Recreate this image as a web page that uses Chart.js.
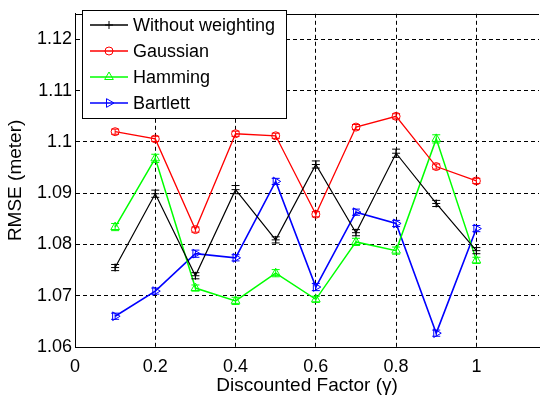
<!DOCTYPE html>
<html>
<head>
<meta charset="utf-8">
<script src="https://cdn.jsdelivr.net/npm/chart.js@4.4.0/dist/chart.umd.min.js"></script>
<style>
  html, body { margin: 0; padding: 0; background: #fff; }
</style>
</head>
<body>
<canvas id="chart" width="545" height="400"></canvas>
<script>
const gammas = [0.1, 0.2, 0.3, 0.4, 0.5, 0.6, 0.7, 0.8, 0.9, 1.0];

const withoutWeighting = [1.0755, 1.0899, 1.0739, 1.0907, 1.0809, 1.0956, 1.0823, 1.0978, 1.0880, 1.0788];
const gaussian = [1.1020, 1.1006, 1.0829, 1.1016, 1.1012, 1.0859, 1.1029, 1.1050, 1.0952, 1.0924];
const hamming = [1.0834, 1.0968, 1.0715, 1.0690, 1.0744, 1.0693, 1.0805, 1.0788, 1.1006, 1.0769];
const bartlett = [1.0660, 1.0709, 1.0782, 1.0774, 1.0923, 1.0717, 1.0863, 1.0841, 1.0627, 1.0831];

// half heights of the error bars
const errWithout = [0.0006, 0.0007, 0.0006, 0.0008, 0.0006, 0.0007, 0.0006, 0.0008, 0.0006, 0.0006];
const errGaussian = [0.0005, 0.0005, 0.0005, 0.0005, 0.0005, 0.0005, 0.0005, 0.0005, 0.0005, 0.0005];
const errHamming = [0.0007, 0.0008, 0.0006, 0.0007, 0.0007, 0.0006, 0.0007, 0.0007, 0.0008, 0.0006];
const errBartlett = [0.0006, 0.0006, 0.0007, 0.0006, 0.0006, 0.0007, 0.0006, 0.0006, 0.0006, 0.0006];

const xTicks = [0, 0.2, 0.4, 0.6, 0.8, 1];
const yTicks = [1.06, 1.07, 1.08, 1.09, 1.10, 1.11, 1.12];

const FONT = "'Liberation Sans', Arial, sans-serif";

function series(label, values, errors, color, style, radius, rotation, width) {
  return {
    label: label,
    data: gammas.map((g, i) => ({ x: g, y: values[i] })),
    errors: errors,
    borderColor: color,
    backgroundColor: color,
    borderWidth: width,
    pointStyle: style,
    pointRadius: radius,
    pointRotation: rotation,
    pointBorderColor: color,
    pointBackgroundColor: "rgba(0,0,0,0)",
    pointBorderWidth: 1,
    tension: 0
  };
}

const errorBars = {
  id: "errorBars",
  afterDatasetsDraw(chart) {
    const ctx = chart.ctx;
    const ys = chart.scales.y;
    ctx.save();
    chart.data.datasets.forEach((ds, i) => {
      const meta = chart.getDatasetMeta(i);
      ctx.strokeStyle = ds.borderColor;
      ctx.lineWidth = 1;
      meta.data.forEach((pt, j) => {
        const v = ds.data[j].y;
        const e = ds.errors[j];
        const top = ys.getPixelForValue(v + e);
        const bot = ys.getPixelForValue(v - e);
        ctx.beginPath();
        ctx.moveTo(pt.x, top); ctx.lineTo(pt.x, bot);
        ctx.moveTo(pt.x - 4, top); ctx.lineTo(pt.x + 4, top);
        ctx.moveTo(pt.x - 4, bot); ctx.lineTo(pt.x + 4, bot);
        ctx.stroke();
      });
    });
    ctx.restore();
  }
};

const frameAndLegend = {
  id: "frameAndLegend",
  afterDraw(chart) {
    const ctx = chart.ctx;
    const area = chart.chartArea;
    ctx.save();
    // top border of the axes box
    ctx.strokeStyle = "#000";
    ctx.lineWidth = 1;
    ctx.beginPath();
    ctx.moveTo(area.left, Math.round(area.top) + 0.5);
    ctx.lineTo(area.right, Math.round(area.top) + 0.5);
    ctx.stroke();

    // legend box
    ctx.fillStyle = "#fff";
    ctx.fillRect(82.5, 10.5, 204, 108);
    ctx.strokeRect(82.5, 10.5, 204, 108);
    ctx.font = "18px " + FONT;
    ctx.textBaseline = "middle";
    chart.data.datasets.forEach((ds, i) => {
      const y = 25 + i * 26;
      ctx.strokeStyle = ds.borderColor;
      ctx.lineWidth = 1.5;
      ctx.beginPath();
      ctx.moveTo(90, y); ctx.lineTo(128, y);
      ctx.stroke();
      ctx.lineWidth = 1;
      ctx.fillStyle = "rgba(0,0,0,0)";
      Chart.helpers.drawPoint(ctx, {
        pointStyle: ds.pointStyle,
        radius: ds.pointRadius,
        rotation: ds.pointRotation,
        borderWidth: 1
      }, 109, y);
      ctx.fillStyle = "#000";
      ctx.fillText(ds.label, 133, y + 1);
    });
    ctx.restore();
  }
};

new Chart(document.getElementById("chart"), {
  type: "line",
  data: {
    datasets: [
      series("Without weighting", withoutWeighting, errWithout, "#000000", "cross", 4, 0, 1.2),
      series("Gaussian", gaussian, errGaussian, "#ff0000", "circle", 4, 0, 1.3),
      series("Hamming", hamming, errHamming, "#00ff00", "triangle", 5, 0, 1.5),
      series("Bartlett", bartlett, errBartlett, "#0000ff", "triangle", 5, 90, 1.6)
    ]
  },
  options: {
    responsive: false,
    animation: false,
    layout: { padding: { top: 5, right: 0, left: 0, bottom: 0 } },
    plugins: {
      legend: { display: false },
      tooltip: { enabled: false }
    },
    scales: {
      x: {
        type: "linear",
        min: 0,
        max: 1.156,
        afterBuildTicks: (s) => { s.ticks = xTicks.map(v => ({ value: v })); },
        afterFit: (s) => { s.height = 53; },
        ticks: {
          color: "#000",
          padding: 9,
          font: { family: FONT, size: 18 },
          callback: (v) => String(v)
        },
        grid: { color: "#000", lineWidth: 1, drawTicks: false },
        border: { display: true, color: "#000", width: 1, dash: [4, 3] },
        title: {
          display: true,
          text: "Discounted Factor (\u03b3)",
          color: "#000",
          font: { family: FONT, size: 19 },
          padding: { top: 0, bottom: 3 }
        }
      },
      y: {
        type: "linear",
        min: 1.06,
        max: 1.125,
        afterBuildTicks: (s) => { s.ticks = yTicks.map(v => ({ value: v })); },
        afterFit: (s) => { s.width = 75; },
        ticks: {
          color: "#000",
          padding: 3,
          font: { family: FONT, size: 18 },
          callback: (v) => String(Number(v.toFixed(2)))
        },
        grid: { color: "#000", lineWidth: 1, drawTicks: false },
        border: { display: true, color: "#000", width: 1, dash: [4, 3] },
        title: {
          display: true,
          text: "RMSE (meter)",
          color: "#000",
          font: { family: FONT, size: 19 },
          padding: { top: 4, bottom: 0 }
        }
      }
    }
  },
  plugins: [errorBars, frameAndLegend]
});
</script>
</body>
</html>
